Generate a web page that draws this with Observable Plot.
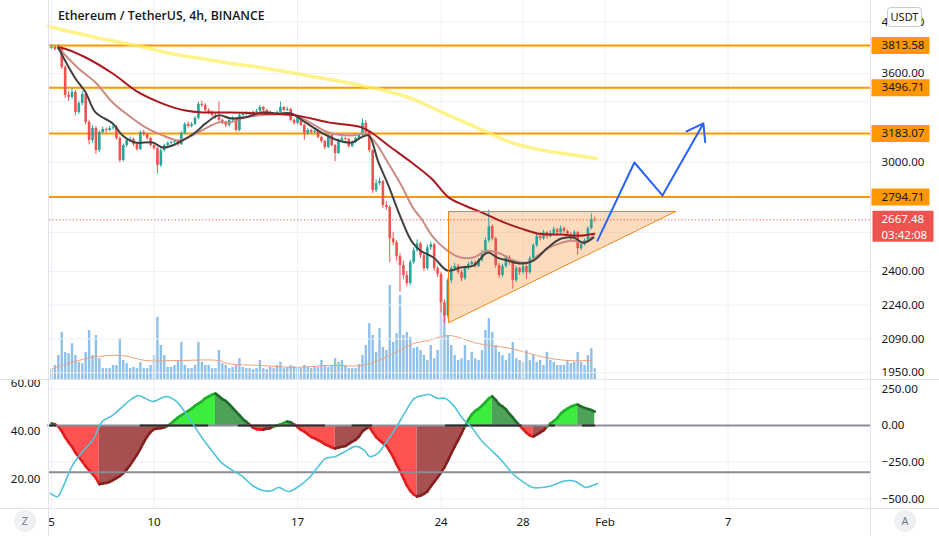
<!DOCTYPE html>
<html><head><meta charset="utf-8">
<script src="https://cdn.jsdelivr.net/npm/d3@7"></script>
<script src="https://cdn.jsdelivr.net/npm/@observablehq/plot@0.6"></script>
<style>
html,body{margin:0;padding:0;background:#fff;}
#chart{position:relative;width:939px;height:536px;overflow:hidden;background:#fff;font-family:"Noto Sans","Open Sans",sans-serif;color:#131722;}
.layer{position:absolute;left:0;}
.layer svg{display:block;}
.sep{position:absolute;background:#e0e3eb;}
#title{position:absolute;left:58px;top:7px;font-family:"Open Sans",sans-serif;font-weight:600;font-size:12.3px;color:#131722;white-space:nowrap;}
#usdt{position:absolute;left:887px;top:7px;width:33px;height:18px;border:1px solid #c8cbd3;border-radius:4px;background:#fff;font-size:11px;line-height:18px;text-align:center;color:#131722;}
.circ{position:absolute;width:22px;height:22px;border-radius:11px;background:#eef0f4;color:#787b86;font-size:11px;line-height:22px;text-align:center;}
</style></head>
<body><div id="chart"></div>
<script>
// ---------------- DATA ----------------
const startTime = Date.UTC(2022, 0, 5);      // first 4h candle
const firstOpen = 3790;
const closes = [3797,3781,3789,3645,3442,3428,3463,3324,3385,3449,
 3257,3138,3217,3074,3190,3210,3203,3217,3224,3151,
 3012,3106,3138,3145,3112,3080,3190,3177,3151,3106,
 3087,2982,3074,3106,3119,3125,3132,3112,3184,3244,
 3230,3244,3284,3379,3372,3337,3324,3304,3291,3270,
 3257,3237,3270,3284,3203,3304,3311,3317,3311,3324,
 3330,3358,3337,3324,3317,3311,3324,3358,3337,3344,
 3270,3250,3291,3237,3184,3203,3190,3197,3158,3132,
 3093,3171,3106,3056,3138,3151,3145,3100,3125,3151,
 3171,3250,3190,3074,2832,2873,2885,2747,2736,2566,
 2545,2474,2429,2380,2341,2444,2504,2540,2479,2414,
 2519,2535,2414,2385,2251,2191,2355,2414,2424,2394,
 2365,2414,2434,2444,2424,2454,2494,2556,2630,2566,
 2429,2380,2424,2469,2444,2355,2414,2394,2424,2394,
 2464,2530,2577,2566,2598,2577,2593,2614,2598,2620,
 2604,2588,2566,2598,2514,2535,2556,2620,2668,2667.48];
const highs = [3815,3810,3820,3800,3660,3470,3490,3475,3400,3470,
 3460,3270,3235,3230,3200,3225,3220,3230,3240,3235,
 3160,3115,3150,3160,3155,3120,3200,3205,3185,3160,
 3115,3095,3085,3115,3130,3135,3145,3140,3195,3255,
 3260,3255,3295,3395,3400,3385,3350,3335,3315,3395,
 3280,3265,3280,3295,3290,3315,3325,3330,3328,3335,
 3345,3372,3365,3345,3335,3325,3335,3395,3365,3360,
 3352,3280,3300,3298,3245,3215,3212,3208,3205,3165,
 3140,3180,3178,3112,3148,3165,3160,3152,3135,3160,
 3180,3280,3270,3198,3080,2895,2905,2892,2770,2745,
 2600,2556,2490,2450,2400,2455,2520,2560,2548,2490,
 2535,2548,2542,2425,2395,2265,2365,2425,2440,2435,
 2405,2425,2445,2455,2452,2465,2505,2570,2720,2640,
 2575,2440,2435,2480,2478,2455,2425,2422,2435,2432,
 2475,2540,2590,2600,2610,2605,2608,2628,2622,2635,
 2630,2612,2598,2610,2605,2545,2565,2630,2700,2682];
const lows = [3780,3770,3770,3630,3420,3400,3415,3300,3310,3370,
 3240,3110,3120,3050,3060,3180,3185,3195,3205,3140,
 3000,3005,3095,3125,3100,3070,3075,3165,3140,3095,
 3075,2930,2970,3065,3095,3110,3115,3100,3105,3175,
 3220,3220,3235,3275,3360,3325,3310,3290,3280,3260,
 3240,3220,3225,3260,3195,3195,3295,3300,3300,3305,
 3315,3322,3325,3315,3305,3300,3302,3318,3328,3330,
 3262,3240,3242,3228,3140,3170,3178,3182,3148,3120,
 3080,3085,3095,3005,3050,3130,3135,3090,3092,3118,
 3145,3165,3180,3060,2815,2820,2860,2730,2720,2444,
 2530,2450,2300,2360,2325,2330,2435,2495,2465,2400,
 2405,2505,2400,2370,2205,2160,2180,2340,2400,2385,
 2350,2355,2405,2425,2415,2418,2445,2485,2545,2555,
 2415,2365,2370,2415,2430,2315,2345,2380,2385,2360,
 2385,2455,2520,2555,2558,2565,2570,2585,2588,2590,
 2595,2578,2555,2560,2480,2505,2528,2550,2612,2655];
// volume, thousand ETH
const volumes = [38,48,80,154,90,86,118,80,58,54, 90,160,80,144,70,38,38,38,48,48,
 134,64,54,38,42,38,58,38,38,48, 80,202,112,80,42,42,48,64,122,48,
 38,38,48,122,58,48,48,38,38,96, 54,48,
 38,42,48,70,42,38,38,35,38,64, 38,35,42,38,48,58,38,42,48,45,
 42,38,48,42,38,45,42,64,48,42, 48,70,58,64,48,38,38,38,51,80,
 112,182,144,90,166,106,96,304,122,150, 272,144,154,138,
 102,106,96,80,64,112,70,96,288,240, 144,112,80,64,70,112,64,90,70,64,
 96,160,198,154,112,90,80,64,86,122, 70,64,58,96,64,80,58,64,48,90,
 64,58,48,48,48,64,54,58,90,58, 48,80,102,38];
// [candle index, value]
const volumeMA = [[0.3,38],[7.9,64],[13.8,77],[20.8,80],[27.5,64],[37.2,64],[48.9,64],[51.8,54],[61.5,48],[71.4,42],[81.1,48],[90.7,48],[95.7,64],[100.7,90],[105.9,118],[110.3,128],[116.2,144],[125,118],[134.6,102],[144.3,74],[151.3,64],[158,64]];
const emaFast = [[2,3797],[4.1,3690],[7,3563],[10,3463],[12.9,3324],[17.9,3250],[20.8,3171],[24.6,3125],[29.6,3125],[32.5,3093],[35.4,3106],[38.3,3138],[42.1,3190],[45.1,3250],[48.9,3304],[52.4,3284],[56.8,3291],[61.5,3324],[66.4,3317],[70.2,3317],[74.3,3257],[79,3190],[84,3138],[87.8,3125],[90.7,3158],[92.8,3171],[95.7,3000],[98.6,2862],[101.6,2708],[104.5,2582],[105.9,2540],[108,2504],[111.8,2469],[115.9,2404],[119.7,2419],[123.5,2429],[127.6,2494],[130.5,2469],[133.5,2454],[137.3,2439],[141.1,2454],[145.2,2519],[149,2566],[152.8,2572],[155.7,2545],[158.6,2572]];
const emaMid = [[2,3797],[4.1,3735],[7.9,3637],[12.9,3534],[17.9,3392],[22.5,3304],[27.5,3224],[32.5,3171],[37.2,3138],[40.1,3158],[45.1,3217],[48.9,3257],[52.4,3257],[56.8,3291],[66.4,3311],[71.4,3304],[76.1,3250],[81.1,3190],[87.8,3171],[91.9,3184],[94.8,3125],[98.6,2994],[102.4,2862],[105.9,2730],[108,2680],[111.8,2572],[115.9,2504],[119.7,2469],[123.5,2469],[127.6,2504],[131.4,2489],[135.2,2454],[139.3,2444],[143.1,2489],[146.9,2530],[152.8,2556],[155.7,2545],[158.6,2582]];
const emaSlow = [[2,3797],[2.6,3797],[10,3720],[17.9,3600],[25.5,3463],[32.5,3385],[39.2,3337],[44.2,3324],[52.4,3324],[61.5,3317],[71.4,3304],[81.1,3257],[90.7,3224],[93.6,3190],[98.6,3106],[105.4,3000],[111.2,2903],[116.2,2793],[120.9,2747],[126.7,2702],[132.6,2652],[137.5,2620],[142.5,2593],[149.3,2588],[154.2,2582],[158.9,2593]];
const sma200 = [[-0.9,3964],[7.9,3907],[17.3,3852],[26,3805],[34.8,3750],[43.6,3712],[52.4,3675],[61.2,3645],[71.4,3600],[81.6,3556],[90.7,3513],[96.3,3484],[105.4,3420],[115,3317],[125,3217],[134.6,3125],[144.3,3074],[151.9,3050],[159.5,3025]];
const levels = [3813.58, 3496.71, 3183.07, 2794.71];
const lastPrice = 2667.48;
const countdown = "03:42:08";
const priceTicks = [4000, 3600, 3000, 2400, 2240, 2090, 1950];
const priceGrid = [4000, 3800, 3600, 3400, 3200, 3000, 2800, 2600, 2400, 2240, 2090, 1950];
const pattern = {startIdx: 116.2, endIdx: 182.6, top: 2713, bottom: 2160};
const projection = [[159.8, 2556], [170.6, 3000], [178.8, 2804], [190.8, 3250]];
const dateTickStrings = ["2022-01-05","2022-01-10","2022-01-17","2022-01-24","2022-01-28","2022-02-01","2022-02-07"];
// squeeze momentum (right scale) per candle
const momentum = [14,8,-7,-40,-80,-115,-145,-185,-215,-245,
 -278,-305,-330,-358,-400,-396,-392,-385,-372,-358,
 -345,-325,-300,-270,-235,-200,-160,-115,-75,-45,
 -25,-20,-18,-12,-2,15,35,55,70,85,
 100,115,135,150,165,185,198,210,218,200,
 180,168,145,120,95,70,45,25,5,-15,
 -25,-28,-28,-22,-18,-8,0,8,18,27,
 22,8,-10,-30,-42,-60,-78,-88,-100,-112,
 -128,-138,-148,-157,-150,-145,-140,-125,-110,-98,
 -75,-40,-22,-10,-45,-78,-100,-120,-138,-175,
 -215,-265,-310,-360,-410,-445,-470,-484,-478,-466,
 -450,-415,-385,-355,-320,-285,-240,-190,-145,-100,
 -55,-5,40,75,100,115,135,160,185,198,
 175,145,130,110,80,55,25,0,-25,-50,
 -68,-75,-62,-48,-34,-10,15,30,50,80,
 100,115,128,138,143,130,120,112,105,95];
const squeezeOn = [[-1,1.5],[26,46],[54.7,80.2],[88,94],[115.3,137.8],[145.7,147.5],[155.4,159.2]];
// ADX-like line (left scale)
const adx = [[-0.3,14.2],[1.8,12.9],[3.2,16.3],[6.1,25.8],[9.1,31.7],[12,36.3],[14.9,44.2],[17.9,46.7],[20.8,50.4],[23.7,53.8],[25.5,55],[27.5,53.8],[29.6,52.5],[31.3,53.3],[33.4,54.6],[36.3,52.9],[38.3,49.6],[41.3,43.3],[44.2,37.1],[47.1,31.7],[50,26.7],[53,23.8],[55.9,21.3],[58.8,17.5],[61.8,15.4],[64.7,15.4],[66.4,16.7],[69.4,15],[72.3,17.1],[75.2,20.4],[78.1,25.4],[80.2,28.8],[83.1,29.6],[86,31.7],[89,33.8],[91.6,32.1],[93.1,29.6],[95.4,30.8],[97.7,35],[100.7,41.3],[103.6,48.3],[106.2,53.8],[108.6,55],[110.6,55.4],[113,53.8],[115.3,53.8],[117.9,50.4],[120.3,45.4],[123.2,41.3],[126.1,35.8],[129.1,31.7],[132,27.5],[134.9,22.5],[137.8,19.2],[140.8,16.7],[143.7,16.7],[146.6,17.5],[149.5,19.2],[151.6,19.6],[153.4,19.2],[156.3,16.7],[158.3,17.5],[159.8,18.3]];
const adxLevel = 23;
const leftTicks = [60, 40, 20];
const rightTicks = [250, 0, -250, -500];

// ---------------- BUILD ----------------
const H4 = 4 * 3600e3;
const t = i => new Date(startTime + i * H4);
const candles = closes.map((c, i) => {
  const open = i ? closes[i - 1] : firstOpen;
  return {time: t(i), open, close: c, high: highs[i], low: lows[i], up: c >= open};
});
const UP = "#26a69a", DOWN = "#ef5350";
const pairs = arr => arr.map(([i, v]) => ({time: t(i), v}));
const dateTicks = dateTickStrings.map(s => new Date(s + "T00:00:00Z"));
const xDomain = [new Date(Date.UTC(2022, 0, 4, 21, 39)), new Date(Date.UTC(2022, 1, 13, 22, 49))];
const fontStyle = {background: "transparent", fontFamily: "'Noto Sans','Open Sans',sans-serif", fontSize: "11.6px", color: "#131722", overflow: "hidden"};
const W = 939, ML = 49, MR = 69;
const GRID = "#eef0f4";

const tagSymbol = {draw(ctx) { ctx.rect(-29, -8.5, 58, 17); }};
const priceTagSymbol = {draw(ctx) { ctx.rect(-30, -9, 61, 31); }};

const tri = [
  {time: t(pattern.startIdx), y1: pattern.bottom, y2: pattern.top},
  {time: t(pattern.endIdx), y1: pattern.top, y2: pattern.top}
];
const triOutline = [
  {time: t(pattern.endIdx), v: pattern.top},
  {time: t(pattern.startIdx), v: pattern.top},
  {time: t(pattern.startIdx), v: pattern.bottom},
  {time: t(pattern.endIdx), v: pattern.top}
];
const proj = pairs(projection);
const lastSeg = [{x1: proj[2].time, y1: proj[2].v, x2: proj[3].time, y2: proj[3].v}];

// volume layer
const volPlot = Plot.plot({
  width: W, height: 380, marginLeft: ML, marginRight: MR, marginTop: 0, marginBottom: 0,
  style: fontStyle,
  x: {type: "utc", domain: xDomain, axis: null},
  y: {domain: [0, 1216], axis: null},
  marks: [
    Plot.ruleX(volumes.map((v, i) => ({time: t(i), v})), {x: "time", y: "v", stroke: "#8fc0eb", strokeWidth: 2.4}),
    Plot.line(pairs(volumeMA), {x: "time", y: "v", stroke: "#f0a07a", strokeWidth: 1, curve: "catmull-rom"})
  ]
});

// price layer
const mainPlot = Plot.plot({
  width: W, height: 380, marginLeft: ML, marginRight: MR, marginTop: 0, marginBottom: 0,
  style: fontStyle,
  x: {type: "utc", domain: xDomain, axis: null},
  y: {type: "log", domain: [1919.2, 4180.9], axis: "right", ticks: priceTicks, tickFormat: ".2f", tickSize: 0, tickPadding: 11, label: null},
  marks: [
    Plot.ruleX(dateTicks, {stroke: GRID}),
    Plot.ruleY(priceGrid, {stroke: GRID}),
    Plot.areaY(tri, {x: "time", y1: "y1", y2: "y2", fill: "rgba(247,140,40,0.3)"}),
    Plot.ruleY(levels, {stroke: "#ff9800", strokeWidth: 2}),
    Plot.ruleY([lastPrice], {stroke: "#ef5350", strokeDasharray: "1.2 2.2", strokeWidth: 1}),
    Plot.line(pairs(sma200), {x: "time", y: "v", stroke: "#ffee58", strokeOpacity: 0.7, strokeWidth: 3.5, curve: "catmull-rom"}),
    Plot.ruleX(candles, {x: "time", y1: "low", y2: "high", stroke: d => d.up ? UP : DOWN, strokeWidth: 1}),
    Plot.ruleX(candles, {x: "time", y1: "open", y2: "close", stroke: d => d.up ? UP : DOWN, strokeWidth: 2.6}),
    Plot.line(pairs(emaMid), {x: "time", y: "v", stroke: "#cc8a84", strokeWidth: 2, curve: "catmull-rom"}),
    Plot.line(pairs(emaFast), {x: "time", y: "v", stroke: "#3f4040", strokeWidth: 2, curve: "catmull-rom"}),
    Plot.line(pairs(emaSlow), {x: "time", y: "v", stroke: "#a8191e", strokeWidth: 2, curve: "catmull-rom"}),
    Plot.line(triOutline, {x: "time", y: "v", stroke: "#f57c00", strokeWidth: 1}),
    Plot.line(proj.slice(0, 3), {x: "time", y: "v", stroke: "#2962ff", strokeWidth: 2}),
    Plot.arrow(lastSeg, {x1: "x1", y1: "y1", x2: "x2", y2: "y2", stroke: "#2962ff", strokeWidth: 2, headLength: 14, headAngle: 70}),
    Plot.dot(levels, {y: d => d, frameAnchor: "right", dx: 30, symbol: tagSymbol, fill: "#ff9800", stroke: "none"}),
    Plot.text(levels, {y: d => d, frameAnchor: "right", dx: 11, textAnchor: "start", text: d => d.toFixed(2), fill: "#131722", fontSize: 11.6}),
    Plot.dot([lastPrice], {y: d => d, frameAnchor: "right", dx: 32, symbol: priceTagSymbol, fill: "#ef5350", stroke: "none"}),
    Plot.text([lastPrice], {y: d => d, frameAnchor: "right", dx: 11, dy: -0.5, textAnchor: "start", text: d => d.toFixed(2), fill: "#fff", fontSize: 11.5}),
    Plot.text([lastPrice], {y: d => d, frameAnchor: "right", dx: 11, dy: 15, textAnchor: "start", text: () => countdown, fill: "#fff", fontSize: 11.5})
  ]
});

// momentum layer: contiguous colour runs drawn as areas
const fillOf = {upStrong: "#3ded3d", upWeak: "#4ea257", downStrong: "#ff5252", downWeak: "#a65050"};
const edgeOf = {upStrong: "#1fae2a", upWeak: "#1f6b2b", downStrong: "#e01e1e", downWeak: "#862020"};
const histo = momentum.map((v, i) => {
  const prev = i ? momentum[i - 1] : v;
  const kind = v >= 0 ? (v >= prev ? "upStrong" : "upWeak") : (v <= prev ? "downStrong" : "downWeak");
  return {time: t(i), tPrev: t(i - 1), prev, v, kind};
});
const runs = [];
let run = -1;
histo.forEach((d, i) => {
  if (i === 0 || d.kind !== histo[i - 1].kind) {
    run++;
    if (i > 0) runs.push({time: histo[i - 1].time, v: histo[i - 1].v, kind: d.kind, run});
  }
  runs.push({time: d.time, v: d.v, kind: d.kind, run});
});
const dayFmt = d => d.getUTCDate() === 1 ? d3.utcFormat("%b")(d) : String(d.getUTCDate());
const momPlot = Plot.plot({
  width: W, height: 156, marginLeft: ML, marginRight: MR, marginTop: 0, marginBottom: 28,
  style: fontStyle,
  x: {type: "utc", domain: xDomain, ticks: dateTicks, tickFormat: dayFmt, tickSize: 0, tickPadding: 9, label: null},
  y: {domain: [-565.8, 306.7], axis: "right", ticks: rightTicks, tickFormat: ".2f", tickSize: 0, tickPadding: 11, label: null},
  marks: [
    Plot.ruleX(dateTicks, {stroke: GRID}),
    Plot.ruleY([250, -250, -500], {stroke: GRID}),
    Plot.areaY(runs, {x: "time", y1: () => 0, y2: "v", z: "run", fill: d => fillOf[d.kind]}),
    Plot.link(histo.slice(1), {x1: "tPrev", y1: "prev", x2: "time", y2: "v", stroke: d => edgeOf[d.kind], strokeWidth: 2.6, strokeLinecap: "round"}),
    Plot.ruleY([0], {stroke: "#8a8d95", strokeWidth: 2}),
    Plot.ruleY(squeezeOn, {y: () => 0, x1: d => t(d[0]), x2: d => t(d[1]), stroke: "#2b2b2b", strokeWidth: 2})
  ]
});

// ADX layer
const adxPlot = Plot.plot({
  width: W, height: 156, marginLeft: ML, marginRight: MR, marginTop: 0, marginBottom: 28,
  style: fontStyle,
  x: {type: "utc", domain: xDomain, axis: null},
  y: {domain: [7.92, 61.25], axis: "left", ticks: leftTicks, tickFormat: ".2f", tickSize: 0, tickPadding: 9, label: null},
  marks: [
    Plot.ruleY([adxLevel], {stroke: "#8a8d95", strokeWidth: 2}),
    Plot.line(pairs(adx), {x: "time", y: "v", stroke: "#4fc3d9", strokeWidth: 1.6, curve: "catmull-rom"})
  ]
});

const chart = document.getElementById("chart");
function addLayer(node, top) {
  const d = document.createElement("div");
  d.className = "layer"; d.style.top = top + "px";
  d.appendChild(node); chart.appendChild(d);
}
addLayer(volPlot, 0);
addLayer(mainPlot, 0);
addLayer(momPlot, 380);
addLayer(adxPlot, 380);
function sep(l, t2, w, h) {
  const d = document.createElement("div"); d.className = "sep";
  Object.assign(d.style, {left: l + "px", top: t2 + "px", width: w + "px", height: h + "px"});
  chart.appendChild(d);
}
sep(0, 379, 939, 1);
sep(0, 508, 939, 1);
sep(48, 0, 1, 536);
sep(870, 0, 1, 536);
chart.insertAdjacentHTML("beforeend",
  '<div id="title">Ethereum / TetherUS, 4h, BINANCE</div>' +
  '<div id="usdt">USDT</div>' +
  '<div class="circ" style="left:14px;top:510px">Z</div>' +
  '<div class="circ" style="left:894px;top:510px">A</div>');
</script></body></html>
